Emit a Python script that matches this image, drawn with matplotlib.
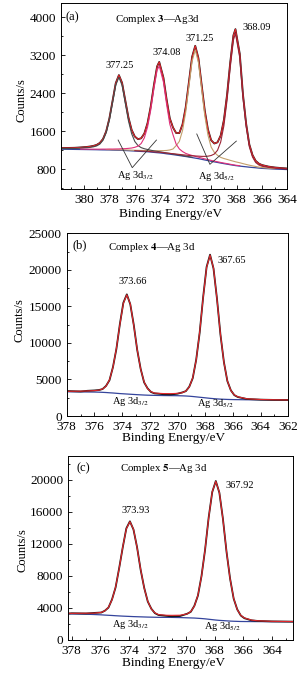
import numpy as np
import matplotlib
matplotlib.use("Agg")
import matplotlib.pyplot as plt
from matplotlib.ticker import MultipleLocator

plt.rcParams['font.family'] = ['Liberation Serif', 'DejaVu Serif']
plt.rcParams['mathtext.fontset'] = 'stix'

# ---------------- (a) Complex 3 ----------------
x_a = [381.8, 381.25, 380.75, 380.25, 379.75, 379.5, 379.25, 379.0, 378.75, 378.5,
       378.25, 378.0, 377.75, 377.5, 377.25, 377.0, 376.75, 376.5, 376.25, 376.0,
       375.75, 375.5, 375.25, 375.0, 374.75, 374.5, 374.25, 374.08, 373.75, 373.5,
       373.25, 373.0, 372.75, 372.5, 372.25, 372.0, 371.75, 371.5, 371.25, 371.0,
       370.75, 370.5, 370.25, 370.0, 369.75, 369.5, 369.25, 369.0, 368.75, 368.5,
       368.25, 368.09, 367.75, 367.5, 367.25, 367.0, 366.75, 366.5, 366.25, 366.0,
       365.5, 365.0, 364.5, 364.0]
bg_a = [1220, 1217, 1215, 1213, 1211, 1210, 1209, 1208, 1206, 1205,
        1204, 1203, 1200, 1198, 1196, 1195, 1191, 1188, 1184, 1180,
        1176, 1172, 1169, 1165, 1159, 1152, 1146, 1142, 1132, 1122,
        1114, 1105, 1095, 1085, 1075, 1065, 1054, 1043, 1031, 1020,
        1006, 992, 979, 965, 952, 940, 927, 915, 904, 892,
        881, 874, 863, 855, 848, 840, 834, 828, 821, 815,
        808, 800, 795, 790]
# component intensities above background
c1_a = [12, 16, 20, 28, 39, 48, 60, 80, 120, 202,
        362, 631, 1001, 1371, 1540, 1371, 1001, 631, 362, 202,
        120, 80, 60, 48, 39, 32, 28, 25, 20, 18,
        16, 14, 13, 11, 10, 9, 8, 8, 7, 7,
        6, 6, 5, 5, 5, 4, 4, 4, 4, 4,
        4, 3, 3, 3, 3, 3, 3, 3, 3, 3,
        2, 2, 2, 2]
c2_a = [5, 6, 7, 8, 10, 10, 11, 12, 14, 16,
        17, 20, 22, 26, 29, 35, 40, 49, 60, 79,
        108, 167, 290, 519, 882, 1340, 1736, 1833, 1503, 1041,
        634, 420, 230, 140, 95, 66, 53, 44, 37, 31,
        27, 23, 21, 18, 16, 14, 13, 12, 11, 10,
        9, 8, 8, 7, 7, 6, 6, 5, 5, 5,
        4, 4, 4, 3]
c3_a = [3, 4, 4, 5, 5, 5, 6, 6, 7, 7,
        8, 8, 9, 10, 10, 11, 13, 14, 15, 17,
        19, 21, 23, 27, 30, 35, 41, 46, 57, 71,
        89, 119, 200, 299, 536, 934, 1481, 2028, 2279, 2028,
        1481, 934, 536, 299, 200, 150, 120, 108, 100, 92,
        85, 80, 70, 60, 50, 42, 34, 27, 21, 17,
        11, 8, 6, 5]
c4_a = [3, 3, 3, 3, 3, 4, 4, 4, 4, 4,
        5, 5, 5, 5, 6, 6, 6, 7, 7, 8,
        8, 9, 9, 10, 10, 11, 12, 13, 15, 16,
        17, 19, 22, 24, 27, 30, 34, 39, 45, 53,
        62, 76, 93, 121, 166, 256, 444, 795, 1351, 2053,
        2640, 2785, 2285, 1450, 850, 430, 220, 110, 65, 45,
        28, 20, 15, 12]
peaks_a = ["377.25", "374.08", "371.25", "368.09"]

# ---------------- (b) Complex 4 ----------------
x_b = [378.0, 377.0, 376.5, 376.0, 375.66, 375.41, 375.16, 374.91, 374.66, 374.41,
       374.16, 373.91, 373.66, 373.41, 373.16, 372.91, 372.66, 372.41, 372.16, 371.91,
       371.66, 371.0, 370.5, 370.0, 369.65, 369.4, 369.15, 368.9, 368.65, 368.4,
       368.15, 367.9, 367.65, 367.4, 367.15, 366.9, 366.65, 366.4, 366.15, 365.9,
       365.65, 365.0, 364.0, 363.0, 362.0]
bg_b = [3320, 3300, 3290, 3280, 3260, 3240, 3215, 3180, 3150, 3110,
        3070, 3040, 3010, 2980, 2950, 2920, 2895, 2870, 2850, 2835,
        2825, 2800, 2790, 2780, 2760, 2740, 2710, 2670, 2620, 2570,
        2520, 2470, 2420, 2380, 2340, 2310, 2290, 2270, 2255, 2245,
        2240, 2225, 2210, 2195, 2180]
fit_b = [3380, 3400, 3430, 3480, 3540, 3700, 4080, 4955, 6650, 9280,
         12530, 15420, 16590, 15360, 12420, 9100, 6410, 4660, 3740, 3320,
         3140, 3070, 3060, 3100, 3190, 3420, 3970, 5240, 7670, 11470,
         16180, 20330, 22020, 20240, 15990, 11200, 7330, 4820, 3490, 2890,
         2630, 2360, 2260, 2220, 2200]
data_b = [3420, 3360, 3450, 3500, 3560, 3690, 4120, 4900, 6700, 9200,
          12600, 15500, 16650, 15300, 12500, 9050, 6450, 4600, 3780, 3280,
          3100, 2980, 2950, 3050, 3230, 3400, 4010, 5180, 7720, 11400,
          16250, 20400, 22080, 20180, 16050, 11150, 7380, 4780, 3520, 2860,
          2600, 2330, 2240, 2200, 2190]
peaks_b = ["373.66", "367.65"]

# ---------------- (c) Complex 5 ----------------
x_c = [378.24, 378.0, 377.0, 376.43, 375.93, 375.68, 375.43, 375.18, 374.93, 374.68,
       374.43, 374.18, 373.93, 373.68, 373.43, 373.18, 372.93, 372.68, 372.43, 372.18,
       371.93, 371.43, 371.0, 370.42, 369.92, 369.67, 369.42, 369.17, 368.92, 368.67,
       368.42, 368.17, 367.92, 367.67, 367.42, 367.17, 366.92, 366.67, 366.42, 366.17,
       365.92, 365.42, 365.0, 364.0, 363.0, 362.5]
bg_c = [3260, 3250, 3220, 3180, 3140, 3110, 3085, 3060, 3030, 3005,
        2980, 2960, 2940, 2920, 2905, 2890, 2875, 2860, 2850, 2840,
        2830, 2825, 2820, 2800, 2770, 2755, 2740, 2710, 2680, 2640,
        2590, 2540, 2490, 2450, 2420, 2390, 2360, 2340, 2325, 2310,
        2305, 2300, 2295, 2285, 2280, 2278]
fit_c = [3330, 3325, 3345, 3350, 3450, 3640, 4090, 5020, 6630, 8940,
         11630, 13890, 14790, 13850, 11555, 8835, 6480, 4840, 3870, 3390,
         3170, 3090, 3080, 3095, 3255, 3555, 4230, 5600, 7950, 11330,
         15240, 18530, 19830, 18440, 15070, 11070, 7615, 5205, 3790, 3080,
         2755, 2480, 2400, 2330, 2310, 2300]
data_c = [3300, 3340, 3310, 3380, 3430, 3660, 4050, 5080, 6580, 9000,
          11580, 13950, 14830, 13800, 11600, 8780, 6520, 4800, 3900, 3350,
          3120, 3020, 2950, 2990, 3280, 3520, 4270, 5550, 8000, 11280,
          15300, 18480, 19870, 18400, 15120, 11020, 7660, 5160, 3820, 3050,
          2720, 2450, 2380, 2320, 2300, 2290]
peaks_c = ["373.93", "367.92"]

red = '#e3262b'
blue = '#34449c'

fig = plt.figure(figsize=(3.04, 6.76), dpi=100)


def style(ax, xlim, ylim, xmaj, ymaj, ylab_x, ylab_y, xlab_y, xlab_x):
    ax.set_xlim(*xlim)
    ax.set_ylim(*ylim)
    ax.xaxis.set_major_locator(MultipleLocator(xmaj))
    ax.xaxis.set_minor_locator(MultipleLocator(1))
    ax.yaxis.set_major_locator(MultipleLocator(ymaj))
    ax.yaxis.set_minor_locator(MultipleLocator(ymaj / 2))
    ax.tick_params(which='both', direction='in', labelsize=9.5, width=0.6)
    ax.tick_params(which='major', length=3, pad=3.5)
    ax.tick_params(which='minor', length=1.6)
    for s in ax.spines.values():
        s.set_linewidth(0.7)
    ax.set_ylabel("Counts/s", fontsize=9)
    ax.yaxis.set_label_coords(ylab_x, ylab_y)
    ax.set_xlabel("Binding Energy/eV", fontsize=9.5)
    ax.xaxis.set_label_coords(xlab_x, xlab_y)


# ---- panel (a)
ax = fig.add_axes([0.2007, 0.7204, 0.745, 0.2751])
xa = np.array(x_a)
bga = np.array(bg_a)
comps = [np.array(c1_a), np.array(c2_a), np.array(c3_a), np.array(c4_a)]
env = bga + sum(comps)
ax.plot(xa, bga, color=blue, lw=0.9)
ax.plot(xa, env, color='#1a1a1a', lw=1.3)
ax.plot(xa, env, color=red, lw=0.8)
comp_colors = ['#4a4a4a', '#e0307a', '#c4a06c', '#9b2335']
for c, col in zip([comps[2], comps[0], comps[1], comps[3]],
                  [comp_colors[2], comp_colors[0], comp_colors[1], comp_colors[3]]):
    m = c >= 8
    ax.plot(xa[m], (bga + c)[m], color=col, lw=0.8)
style(ax, (381.8, 364), (380, 4300), 2, 800, -0.150, 0.478, -0.102, 0.484)
ax.text(380.9, 4000, "(a)", fontsize=9, ha='center', va='center')
ax.text(374.2, 3960, r"Complex $\mathbf{3}$" + "\u2014Ag3d", fontsize=7.8, ha='center', va='center')
for lab, px, py in zip(peaks_a, [377.18, 373.5, 370.9, 366.45], [2980, 3262, 3557, 3789]):
    ax.text(px, py, lab, fontsize=7.5, ha='center', va='center')
ax.plot([377.31, 376.2, 374.3], [1412, 830, 1412], color='#333333', lw=0.6)
ax.plot([371.13, 370.1, 368.02], [1540, 900, 1390], color='#333333', lw=0.6)
ax.text(375.95, 673, r"Ag 3d$_{3/2}$", fontsize=7.5, ha='center', va='center')
ax.text(369.55, 640, r"Ag 3d$_{5/2}$", fontsize=7.5, ha='center', va='center')

# ---- panel (b)
ax = fig.add_axes([0.2194, 0.3846, 0.729, 0.2702])
ax.plot(x_b, bg_b, color=blue, lw=0.9)
ax.plot(x_b, data_b, color='#1a1a1a', lw=1.3)
ax.plot(x_b, fit_b, color=red, lw=0.8)
style(ax, (378, 362), (0, 25000), 2, 5000, -0.184, 0.525, -0.0876, 0.481)
ax.text(377.04, 23400, "(b)", fontsize=9, ha='center', va='center')
ax.text(371.87, 23080, r"Complex $\mathbf{4}$" + "\u2014Ag 3d", fontsize=7.8, ha='center', va='center')
for lab, px, py in zip(peaks_b, [373.21, 366.09], [18470, 21350]):
    ax.text(px, py, lab, fontsize=7.5, ha='center', va='center')
ax.text(373.38, 1960, r"Ag 3d$_{3/2}$", fontsize=7.5, ha='center', va='center')
ax.text(367.29, 1740, r"Ag 3d$_{5/2}$", fontsize=7.5, ha='center', va='center')

# ---- panel (c)
ax = fig.add_axes([0.2247, 0.0533, 0.740, 0.2722])
ax.plot(x_c, bg_c, color=blue, lw=0.9)
ax.plot(x_c, data_c, color='#1a1a1a', lw=1.3)
ax.plot(x_c, fit_c, color=red, lw=0.8)
style(ax, (378.24, 362.5), (0, 23000), 2, 4000, -0.179, 0.489, -0.092, 0.467)
ax.text(377.16, 21460, "(c)", fontsize=9, ha='center', va='center')
ax.text(371.56, 21460, r"Complex $\mathbf{5}$" + "\u2014Ag 3d", fontsize=7.8, ha='center', va='center')
for lab, px, py in zip(peaks_c, [373.55, 366.22], [16160, 19250]):
    ax.text(px, py, lab, fontsize=7.5, ha='center', va='center')
ax.text(373.92, 1875, r"Ag 3d$_{3/2}$", fontsize=7.5, ha='center', va='center')
ax.text(367.43, 1670, r"Ag 3d$_{5/2}$", fontsize=7.5, ha='center', va='center')

fig.savefig("out.png", dpi=100)
